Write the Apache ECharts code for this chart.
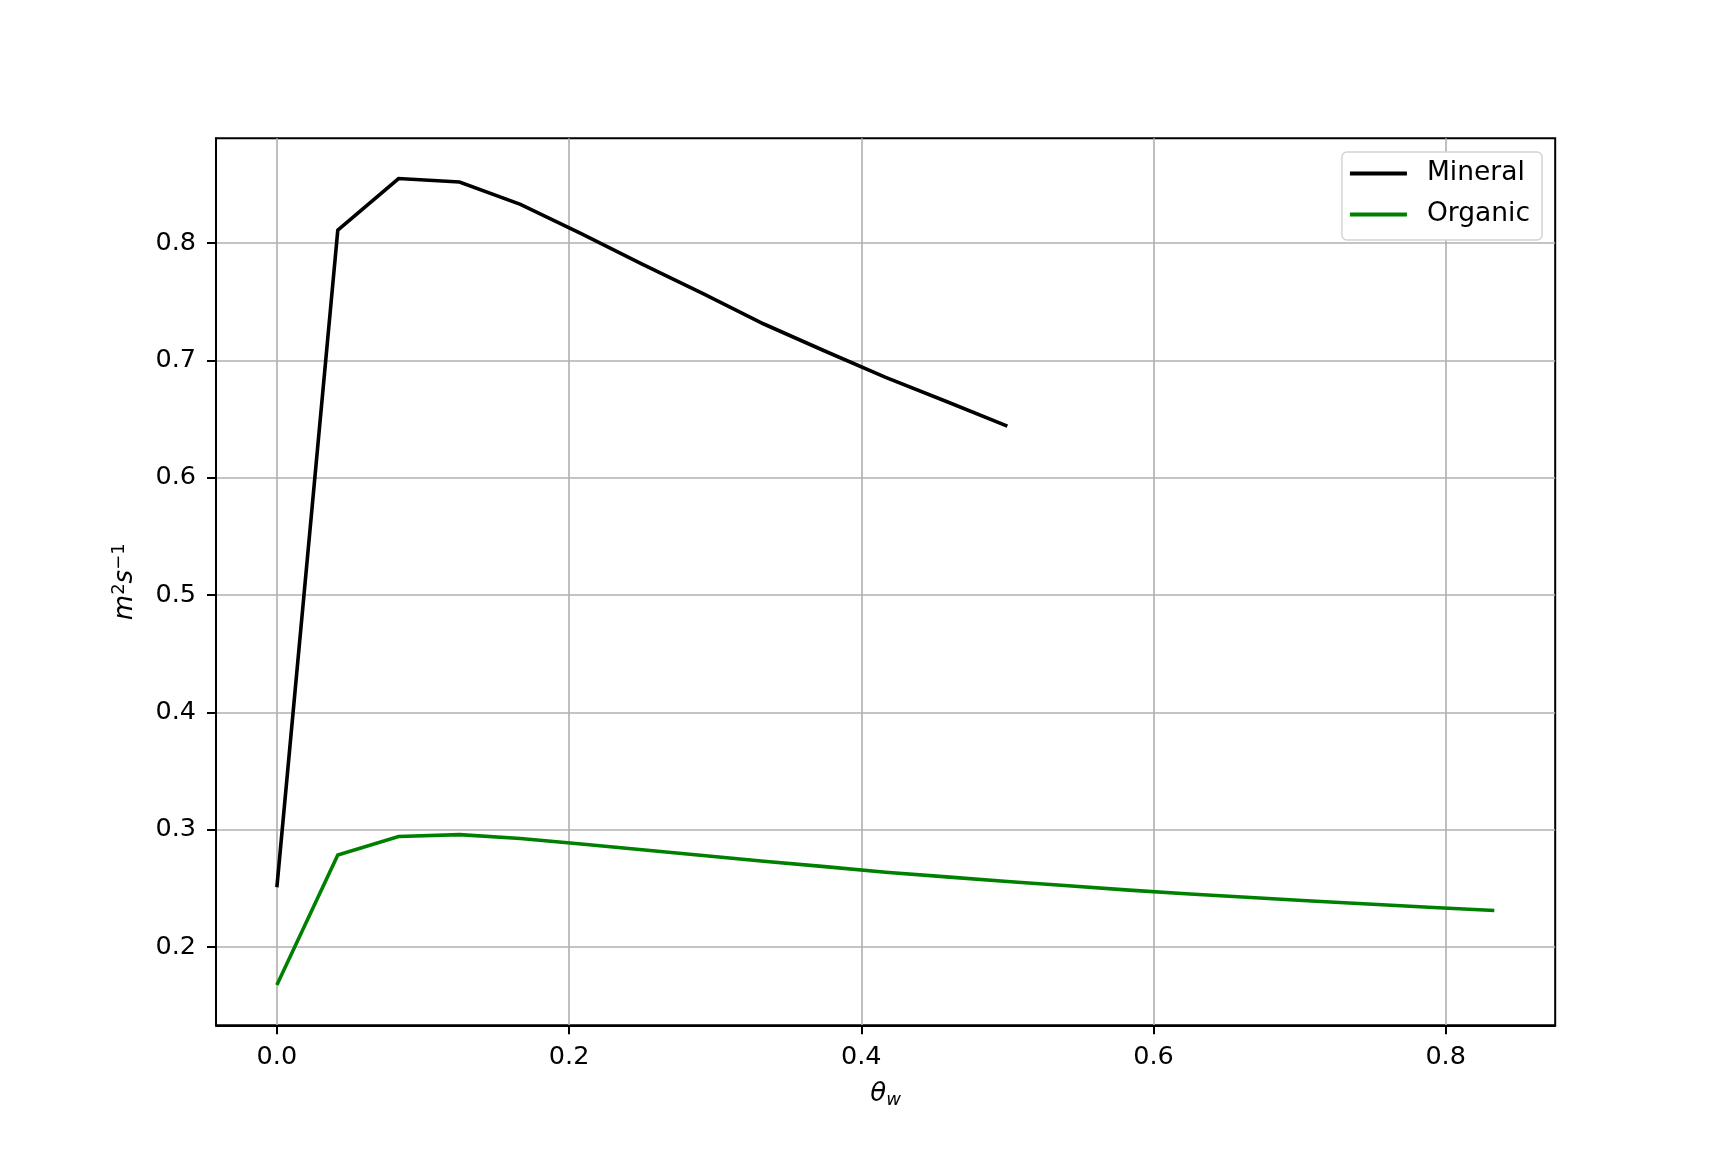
<!DOCTYPE html>
<html>
<head>
<meta charset="utf-8">
<script src="https://cdn.jsdelivr.net/npm/echarts@6/dist/echarts.min.js"></script>
<style>
html,body{margin:0;padding:0;background:#fff;}
#chart{width:1728px;height:1152px;}
</style>
</head>
<body>
<div id="chart"></div>
<script>
// ---- data ----
const thetaMineral = [0, 0.0417, 0.0833, 0.125, 0.1667, 0.2083, 0.25, 0.2917, 0.3333, 0.375, 0.4167, 0.4583, 0.5];
const mineral      = [0.251, 0.811, 0.855, 0.852, 0.833, 0.808, 0.782, 0.757, 0.731, 0.708, 0.6855, 0.665, 0.644];

const thetaOrganic = [0, 0.0417, 0.0833, 0.125, 0.1667, 0.2083, 0.25, 0.2917, 0.3333, 0.375, 0.4167,
                      0.4583, 0.5, 0.5417, 0.5833, 0.625, 0.6667, 0.7083, 0.75, 0.7917, 0.8333];
const organic      = [0.1677, 0.2785, 0.2943, 0.2958, 0.2926, 0.2878, 0.2829, 0.2780, 0.2732, 0.2686, 0.2638,
                      0.2598, 0.2559, 0.2522, 0.2485, 0.2452, 0.2422, 0.2393, 0.2365, 0.2337, 0.2312];

const seriesNames = ['Mineral', 'Organic'];
const xTicks = [0.0, 0.2, 0.4, 0.6, 0.8];
const yTicks = [0.2, 0.3, 0.4, 0.5, 0.6, 0.7, 0.8];

// ---- axis limits with matplotlib-style 5% margins ----
const allX = thetaMineral.concat(thetaOrganic);
const allY = mineral.concat(organic);
const xLo = Math.min(...allX), xHi = Math.max(...allX);
const yLo = Math.min(...allY), yHi = Math.max(...allY);
const xPad = (xHi - xLo) * 0.05, yPad = (yHi - yLo) * 0.05;

const FONT = 'DejaVu Sans';
const FS = 25.5;

const chart = echarts.init(document.getElementById('chart'), null, {renderer: 'canvas'});
chart.setOption({
  animation: false,
  backgroundColor: '#ffffff',
  textStyle: {fontFamily: FONT},
  grid: {
    left: 216, right: 172.8, top: 138.2, bottom: 126.7,
    show: true, borderColor: '#000', borderWidth: 2, backgroundColor: 'transparent'
  },
  legend: {
    orient: 'vertical',
    right: 186, top: 152,
    data: seriesNames,
    icon: 'rect',
    itemWidth: 57, itemHeight: 4,
    itemGap: 14,
    align: 'left',
    padding: [8, 12, 12, 8],
    backgroundColor: '#ffffff',
    borderColor: '#d4d4d4',
    borderWidth: 1.5,
    borderRadius: 5,
    textStyle: {fontFamily: FONT, fontSize: 26.5, color: '#000', lineHeight: 26, padding: [0, 0, 0, 15]}
  },
  xAxis: {
    type: 'value',
    min: xLo - xPad, max: xHi + xPad,
    name: '{i|θ}{sub|w}',
    nameLocation: 'middle',
    nameGap: 53,
    nameTextStyle: {
      rich: {
        i: {fontFamily: FONT, fontStyle: 'italic', fontSize: 26, color: '#000', verticalAlign: 'middle', lineHeight: 30},
        sub: {fontFamily: FONT, fontStyle: 'italic', fontSize: 18, color: '#000', verticalAlign: 'bottom', lineHeight: 18, padding: [16, 0, 0, 0]}
      }
    },
    axisLine: {show: true, onZero: false, lineStyle: {color: '#000', width: 2}},
    axisTick: {show: true, length: 9, inside: false, customValues: xTicks, lineStyle: {color: '#000', width: 2}},
    axisLabel: {show: true, customValues: xTicks, margin: 19, fontFamily: FONT, fontSize: FS, color: '#000',
                formatter: v => v.toFixed(1)},
    splitLine: {show: true, lineStyle: {color: '#b0b0b0', width: 1.6}}
  },
  yAxis: {
    type: 'value',
    min: yLo - yPad, max: yHi + yPad,
    name: '{i|m}{sup|2}{i|s}{sup|−1}',
    nameLocation: 'middle',
    nameRotate: 90,
    nameGap: 69,
    nameTextStyle: {
      rich: {
        i: {fontFamily: FONT, fontStyle: 'italic', fontSize: 26, color: '#000', verticalAlign: 'middle', lineHeight: 30},
        sup: {fontFamily: FONT, fontSize: 18, color: '#000', verticalAlign: 'top', lineHeight: 18, padding: [0, 0, 16, 0]}
      }
    },
    axisLine: {show: true, onZero: false, lineStyle: {color: '#000', width: 2}},
    axisTick: {show: true, length: 9, inside: false, customValues: yTicks, lineStyle: {color: '#000', width: 2}},
    axisLabel: {show: true, customValues: yTicks, margin: 20, fontFamily: FONT, fontSize: FS, color: '#000',
                formatter: v => v.toFixed(1)},
    splitLine: {show: true, lineStyle: {color: '#b0b0b0', width: 1.6}}
  },
  series: [
    {
      name: seriesNames[0], type: 'line', showSymbol: false, symbol: 'none',
      color: '#000000',
      lineStyle: {color: '#000000', width: 3.6, join: 'miter'},
      data: thetaMineral.map((x, i) => [x, mineral[i]]),
      z: 3
    },
    {
      name: seriesNames[1], type: 'line', showSymbol: false, symbol: 'none',
      color: '#008000',
      lineStyle: {color: '#008000', width: 3.6, join: 'miter'},
      data: thetaOrganic.map((x, i) => [x, organic[i]]),
      z: 2
    }
  ]
});
</script>
</body>
</html>
